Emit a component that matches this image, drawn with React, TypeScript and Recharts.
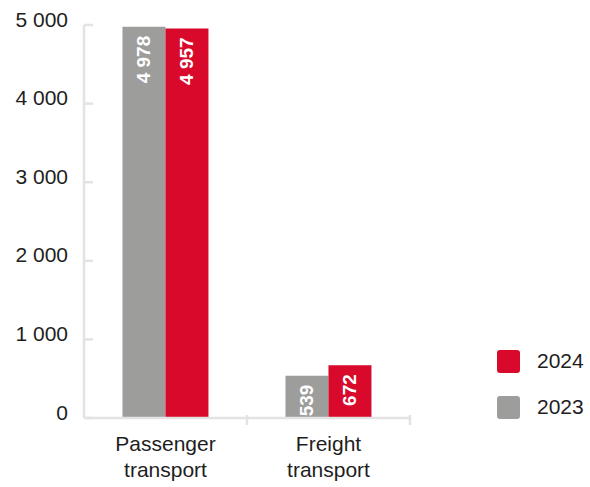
import { BarChart, Bar, XAxis, YAxis, LabelList } from 'recharts'

const categories = ['Passenger transport', 'Freight transport']
const values2023 = [4978, 539]
const values2024 = [4957, 672]
const yTicks = [0, 1000, 2000, 3000, 4000, 5000]
const seriesNames = ['2023', '2024']

const RED = '#d8092a'
const GRAY = '#9d9d9c'
const AXIS = '#e3e3e3'
const FONT = '"Liberation Sans", Arial, sans-serif'

const W = 590
const H = 487
const MARGIN = { top: 25, right: 180, left: 0, bottom: 0 }
const Y_WIDTH = 84
const X_HEIGHT = 69
const BAND = (W - MARGIN.left - MARGIN.right - Y_WIDTH) / categories.length

const data = categories.map((name, i) => ({
  name,
  y2023: values2023[i],
  y2024: values2024[i],
}))

const fmt = (v: number) => String(v).replace(/\B(?=(\d{3})+(?!\d))/g, ' ')

const YTick = (props: any) => {
  const { x, y, payload } = props
  return (
    <g>
      <line x1={x + 16} x2={x + 25} y1={y} y2={y} stroke={AXIS} strokeWidth={2.5} />
      <text x={x} y={y - 6} textAnchor="end" dominantBaseline="central" fontSize={21} fill="#1e1e1e" fontFamily={FONT}>
        {fmt(payload.value)}
      </text>
    </g>
  )
}

const XTick = (props: any) => {
  const { x, y, payload } = props
  const lines = String(payload.value).split(' ')
  const half = BAND / 2
  return (
    <g>
      <line x1={x + half} x2={x + half} y1={y - 11} y2={y - 1} stroke={AXIS} strokeWidth={2.5} />
      <text x={x} y={y + 25} textAnchor="middle" fontSize={21} fill="#1e1e1e" fontFamily={FONT}>
        {lines.map((l, i) => (
          <tspan key={i} x={x} dy={i === 0 ? 0 : 26}>{l}</tspan>
        ))}
      </text>
    </g>
  )
}

const BarLabel = (props: any) => {
  const { x, y, width, value } = props
  const cx = x + width / 2
  const ty = y + 9
  return (
    <text
      x={cx}
      y={ty}
      transform={`rotate(-90 ${cx} ${ty})`}
      textAnchor="end"
      dominantBaseline="central"
      fontSize={19}
      fontWeight="bold"
      fill="#ffffff"
      fontFamily={FONT}
    >
      {fmt(value)}
    </text>
  )
}

const ChartLegend = () => {
  const items = [
    { name: seriesNames[1], color: RED },
    { name: seriesNames[0], color: GRAY },
  ]
  return (
    <div style={{ position: 'absolute', left: 497, top: 338, fontFamily: FONT }}>
      {items.map((it) => (
        <div key={it.name} style={{ display: 'flex', alignItems: 'center', height: 46 }}>
          <div style={{ width: 23, height: 23, borderRadius: 3, background: it.color, marginRight: 17 }} />
          <span style={{ fontSize: 21, color: '#1e1e1e' }}>{it.name}</span>
        </div>
      ))}
    </div>
  )
}

export default function App() {
  return (
    <div style={{ position: 'absolute', left: 0, top: 0, width: W, height: H, background: '#fff' }}>
      <BarChart width={W} height={H} data={data} margin={MARGIN} barCategoryGap="23.6%" barGap={0}>
        <XAxis
          dataKey="name"
          height={X_HEIGHT}
          axisLine={{ stroke: AXIS, strokeWidth: 2.5 }}
          tickLine={false}
          tick={<XTick />}
          interval={0}
        />
        <YAxis
          width={Y_WIDTH}
          domain={[0, 5000]}
          ticks={yTicks}
          axisLine={{ stroke: AXIS, strokeWidth: 2.5 }}
          tickLine={false}
          tickSize={0}
          tickMargin={16}
          tick={<YTick />}
          interval={0}
        />
        <Bar dataKey="y2023" name={seriesNames[0]} fill={GRAY} isAnimationActive={false}>
          <LabelList dataKey="y2023" content={<BarLabel />} />
        </Bar>
        <Bar dataKey="y2024" name={seriesNames[1]} fill={RED} isAnimationActive={false}>
          <LabelList dataKey="y2024" content={<BarLabel />} />
        </Bar>
      </BarChart>
      <ChartLegend />
    </div>
  )
}
